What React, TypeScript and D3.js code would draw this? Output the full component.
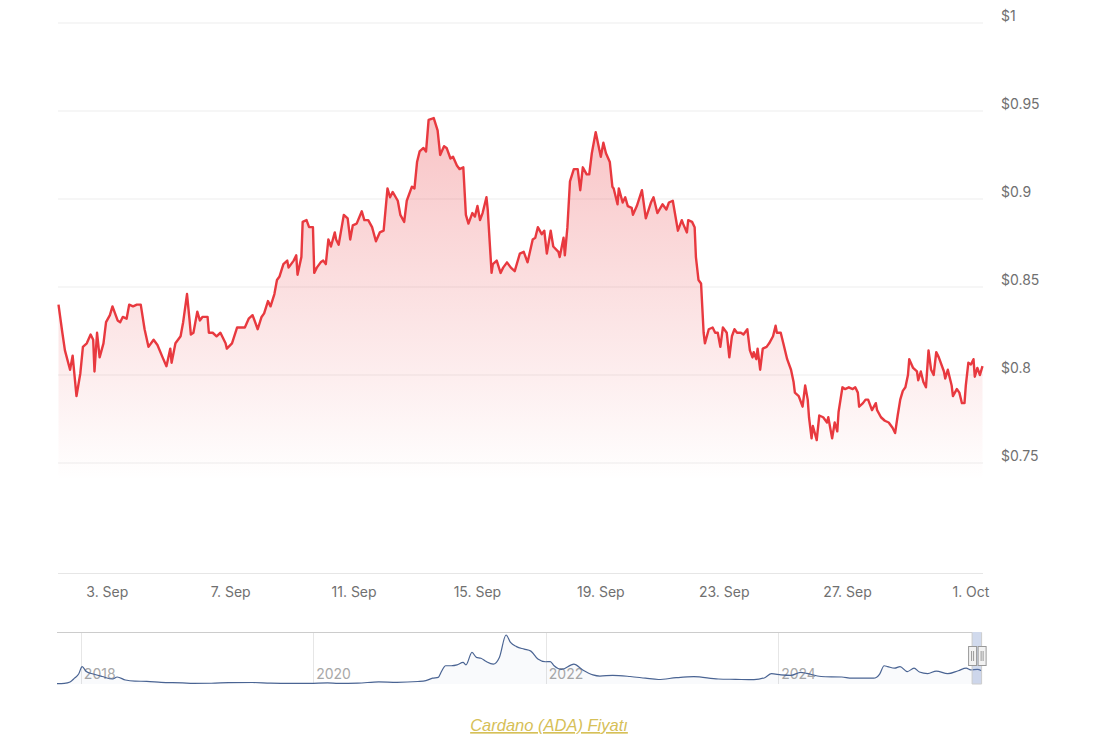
import React, { useEffect, useRef } from 'react';
import * as d3 from 'd3';

const WIDTH = 1113;
const HEIGHT = 738;

// ADA/USD, [hours since 1 Sep 2025 00:00 UTC, price]
const adaHourly: [number, number][] = [
  [10, 0.840], [13, 0.824], [15, 0.814], [19, 0.803], [21, 0.811], [24, 0.788], [27, 0.801], [29, 0.816],
  [32, 0.818], [35, 0.823], [37, 0.820], [38, 0.802], [40, 0.824], [42, 0.810], [45, 0.818], [47, 0.830],
  [50, 0.834], [52, 0.839], [56, 0.831], [58, 0.830], [60, 0.833], [63, 0.832], [65, 0.840], [68, 0.839],
  [71, 0.840], [74, 0.840], [77, 0.826], [80, 0.816], [84, 0.820], [87, 0.817], [91, 0.810], [94, 0.805],
  [97, 0.815], [98, 0.807], [101, 0.818], [105, 0.822], [107, 0.830], [110, 0.846], [112, 0.831], [113, 0.823],
  [115, 0.824], [118, 0.836], [120, 0.831], [122, 0.833], [126, 0.833], [127, 0.824], [130, 0.824], [133, 0.822],
  [136, 0.824], [140, 0.818], [141, 0.815], [145, 0.818], [149, 0.827], [152, 0.827], [155, 0.827], [158, 0.832],
  [161, 0.834], [165, 0.826], [168, 0.833], [170, 0.835], [173, 0.842], [175, 0.839], [178, 0.846], [180, 0.854],
  [182, 0.856], [185, 0.863], [188, 0.865], [189, 0.861], [193, 0.865], [195, 0.868], [196, 0.857], [199, 0.867],
  [200, 0.887], [203, 0.888], [205, 0.884], [208, 0.884], [209, 0.858], [211, 0.861], [214, 0.864], [216, 0.865],
  [218, 0.863], [220, 0.877], [222, 0.873], [225, 0.881], [226, 0.877], [228, 0.874], [232, 0.891], [235, 0.889],
  [237, 0.877], [239, 0.885], [242, 0.886], [246, 0.893], [248, 0.888], [251, 0.888], [254, 0.884], [257, 0.876],
  [260, 0.881], [263, 0.882], [266, 0.906], [268, 0.901], [270, 0.904], [274, 0.899], [276, 0.891], [279, 0.887],
  [281, 0.899], [285, 0.907], [287, 0.906], [289, 0.921], [291, 0.927], [294, 0.929], [296, 0.927], [298, 0.945],
  [302, 0.946], [305, 0.939], [307, 0.925], [310, 0.930], [312, 0.929], [315, 0.923], [317, 0.924], [320, 0.919],
  [322, 0.917], [325, 0.918], [327, 0.891], [329, 0.886], [332, 0.892], [334, 0.890], [336, 0.896], [338, 0.888],
  [340, 0.892], [343, 0.901], [344, 0.894], [347, 0.858], [348, 0.863], [351, 0.865], [354, 0.858], [356, 0.861],
  [359, 0.864], [362, 0.861], [365, 0.859], [369, 0.869], [372, 0.870], [375, 0.864], [379, 0.877], [381, 0.878],
  [383, 0.884], [386, 0.880], [388, 0.882], [390, 0.869], [393, 0.882], [395, 0.873], [399, 0.870], [400, 0.867],
  [403, 0.878], [404, 0.868], [406, 0.884], [408, 0.910], [411, 0.917], [414, 0.917], [416, 0.905], [418, 0.918],
  [421, 0.914], [423, 0.914], [425, 0.926], [428, 0.938], [430, 0.931], [432, 0.924], [434, 0.932], [436, 0.926],
  [439, 0.921], [441, 0.907], [442, 0.906], [445, 0.897], [446, 0.906], [449, 0.898], [451, 0.901], [453, 0.896],
  [456, 0.895], [457, 0.891], [460, 0.896], [464, 0.905], [467, 0.889], [471, 0.898], [473, 0.901], [476, 0.892],
  [480, 0.897], [483, 0.894], [485, 0.898], [488, 0.899], [492, 0.882], [495, 0.888], [496, 0.886], [499, 0.881],
  [500, 0.888], [503, 0.887], [505, 0.884], [506, 0.867], [508, 0.854], [510, 0.852], [512, 0.824], [513, 0.818],
  [516, 0.826], [519, 0.827], [521, 0.824], [523, 0.824], [525, 0.816], [527, 0.827], [530, 0.824], [532, 0.810],
  [534, 0.822], [536, 0.826], [538, 0.824], [541, 0.824], [543, 0.823], [546, 0.826], [548, 0.814], [550, 0.810],
  [551, 0.813], [553, 0.809], [554, 0.815], [556, 0.803], [558, 0.815], [561, 0.816], [563, 0.818], [566, 0.822],
  [568, 0.828], [569, 0.824], [572, 0.824], [574, 0.818], [577, 0.809], [580, 0.803], [582, 0.796], [583, 0.790],
  [586, 0.788], [589, 0.782], [591, 0.794], [593, 0.786], [594, 0.776], [596, 0.764], [597, 0.771], [600, 0.763],
  [602, 0.777], [605, 0.776], [608, 0.773], [609, 0.776], [612, 0.764], [614, 0.773], [616, 0.768], [617, 0.779],
  [620, 0.793], [622, 0.792], [625, 0.793], [628, 0.792], [630, 0.793], [632, 0.790], [633, 0.782], [636, 0.784],
  [638, 0.786], [640, 0.786], [643, 0.780], [646, 0.784], [647, 0.780], [650, 0.776], [653, 0.774], [656, 0.773],
  [659, 0.770], [661, 0.767], [663, 0.777], [665, 0.786], [667, 0.791], [669, 0.793], [671, 0.800], [672, 0.809],
  [675, 0.804], [678, 0.802], [679, 0.797], [681, 0.802], [683, 0.796], [685, 0.793], [687, 0.814], [689, 0.803],
  [691, 0.800], [693, 0.813], [695, 0.810], [699, 0.802], [700, 0.798], [702, 0.803], [705, 0.794], [706, 0.788],
  [709, 0.792], [711, 0.790], [713, 0.784], [715, 0.784], [716, 0.794], [718, 0.807], [720, 0.806], [722, 0.809],
  [723, 0.799], [725, 0.804], [727, 0.800], [729, 0.805],
];

// full history for the navigator
const adaHistory: [string, number][] = [
  ['2017-10-18', 0.025], ['2017-11-10', 0.04], ['2017-11-28', 0.12], ['2017-12-12', 0.35], ['2017-12-25', 0.6],
  ['2018-01-05', 1.05], ['2018-01-18', 0.75], ['2018-02-09', 0.6], ['2018-03-09', 0.45], ['2018-04-11', 0.3],
  ['2018-04-25', 0.42], ['2018-05-21', 0.24], ['2018-06-20', 0.17], ['2018-07-27', 0.16], ['2018-09-10', 0.1],
  ['2018-11-16', 0.07], ['2018-12-20', 0.04], ['2019-02-15', 0.045], ['2019-04-10', 0.08], ['2019-06-25', 0.09],
  ['2019-08-20', 0.05], ['2019-10-15', 0.04], ['2019-12-20', 0.035], ['2020-02-15', 0.07], ['2020-03-20', 0.035],
  ['2020-05-20', 0.05], ['2020-07-25', 0.13], ['2020-09-20', 0.1], ['2020-11-25', 0.15], ['2020-12-20', 0.2],
  ['2021-01-10', 0.35], ['2021-01-28', 0.4], ['2021-02-07', 0.75], ['2021-02-20', 1.1], ['2021-03-10', 1.1],
  ['2021-03-28', 1.15], ['2021-04-16', 1.3], ['2021-04-25', 1.15], ['2021-05-14', 1.9], ['2021-05-28', 1.6],
  ['2021-06-11', 1.55], ['2021-06-28', 1.35], ['2021-07-20', 1.2], ['2021-08-08', 1.6], ['2021-08-29', 2.95],
  ['2021-09-12', 2.5], ['2021-10-01', 2.25], ['2021-10-25', 2.1], ['2021-11-15', 1.98], ['2021-12-07', 1.5],
  ['2021-12-31', 1.34], ['2022-01-15', 1.35], ['2022-01-27', 1.1], ['2022-02-20', 0.88], ['2022-03-30', 1.2],
  ['2022-04-26', 0.86], ['2022-05-29', 0.55], ['2022-06-20', 0.48], ['2022-07-30', 0.52], ['2022-09-23', 0.45],
  ['2022-11-10', 0.35], ['2022-12-21', 0.27], ['2023-02-15', 0.38], ['2023-04-11', 0.44], ['2023-06-27', 0.3],
  ['2023-08-20', 0.28], ['2023-10-17', 0.26], ['2023-11-20', 0.38], ['2023-12-11', 0.62], ['2024-01-10', 0.55],
  ['2024-02-10', 0.52], ['2024-03-12', 0.7], ['2024-03-31', 0.64], ['2024-05-15', 0.45], ['2024-07-19', 0.42],
  ['2024-08-20', 0.35], ['2024-10-27', 0.35], ['2024-11-15', 0.6], ['2024-11-29', 1.1], ['2024-12-10', 1.05],
  ['2025-01-01', 0.95], ['2025-01-18', 1.05], ['2025-02-10', 0.75], ['2025-03-03', 0.95], ['2025-03-20', 0.72],
  ['2025-04-15', 0.63], ['2025-05-12', 0.78], ['2025-06-17', 0.62], ['2025-07-20', 0.8], ['2025-08-14', 0.95],
  ['2025-08-28', 0.85], ['2025-09-18', 0.88], ['2025-10-01', 0.8],
];

const priceTicks = [0.75, 0.8, 0.85, 0.9, 0.95, 1];
const dateTicks = ['2025-09-03', '2025-09-07', '2025-09-11', '2025-09-15', '2025-09-19', '2025-09-23', '2025-09-27', '2025-10-01'];
const yearTicks = ['2018-01-01', '2020-01-01', '2022-01-01', '2024-01-01'];
const linkLabel = 'Cardano (ADA) Fiyatı';

const FONT = "Inter, 'Noto Sans', sans-serif";
const RED = '#e8393f';

export default function App() {
  const ref = useRef<SVGSVGElement>(null);

  useEffect(() => {
    const svg = d3.select(ref.current);
    svg.selectAll('*').remove();

    const t0 = Date.UTC(2025, 8, 1);
    const data = adaHourly.map(([h, p]) => ({ date: new Date(t0 + h * 3600e3), price: p }));

    // main plot
    const left = 58.5, right = 982.5, top = 23, bottom = 573;
    const x = d3.scaleUtc()
      .domain(d3.extent(data, d => d.date) as [Date, Date])
      .range([left, right]);
    const y = d3.scaleLinear().domain([0.6875, 1]).range([bottom, top]);

    const grad = svg.append('defs').append('linearGradient')
      .attr('id', 'adaFill')
      .attr('gradientUnits', 'userSpaceOnUse')
      .attr('x1', 0).attr('x2', 0)
      .attr('y1', y(d3.max(data, d => d.price) as number))
      .attr('y2', y(0.74));
    grad.append('stop').attr('offset', 0).attr('stop-color', RED).attr('stop-opacity', 0.3);
    grad.append('stop').attr('offset', 1).attr('stop-color', RED).attr('stop-opacity', 0);

    // horizontal grid + labels on the right
    svg.append('g').selectAll('line')
      .data(priceTicks)
      .enter().append('line')
      .attr('x1', 58).attr('x2', 983)
      .attr('y1', d => y(d)).attr('y2', d => y(d))
      .attr('stroke', '#ededed')
      .attr('stroke-width', 1);

    svg.append('g').selectAll('text')
      .data(priceTicks)
      .enter().append('text')
      .attr('x', 1001)
      .attr('y', d => y(d) - 2)
      .attr('font-family', FONT)
      .attr('font-size', 14)
      .attr('fill', '#707070')
      .text(d => '$' + d3.format('~g')(d));

    // x axis line
    svg.append('line')
      .attr('x1', 58).attr('x2', 983)
      .attr('y1', bottom + 0.5).attr('y2', bottom + 0.5)
      .attr('stroke', '#e6e6e6');

    svg.append('g').selectAll('text')
      .data(dateTicks.map(s => new Date(s + 'T00:00:00Z')))
      .enter().append('text')
      .attr('x', d => x(d))
      .attr('y', 597)
      .attr('text-anchor', 'middle')
      .attr('font-family', FONT)
      .attr('font-size', 14)
      .attr('fill', '#707070')
      .text(d => d3.utcFormat('%-d. %b')(d));

    const area = d3.area<{ date: Date; price: number }>()
      .x(d => x(d.date))
      .y0(bottom)
      .y1(d => y(d.price));
    svg.append('path')
      .datum(data)
      .attr('d', area)
      .attr('fill', 'url(#adaFill)');

    const line = d3.line<{ date: Date; price: number }>()
      .x(d => x(d.date))
      .y(d => y(d.price));
    svg.append('path')
      .datum(data)
      .attr('d', line)
      .attr('fill', 'none')
      .attr('stroke', RED)
      .attr('stroke-width', 2.4)
      .attr('stroke-linejoin', 'round');

    // navigator
    const navTop = 632, navBottom = 684;
    const hist = adaHistory.map(([s, p]) => ({ date: new Date(s + 'T00:00:00Z'), price: p }));
    const nx = d3.scaleUtc()
      .domain(d3.extent(hist, d => d.date) as [Date, Date])
      .range([57, 981.5]);
    const ny = d3.scaleLinear().domain([0, 2.95]).range([navBottom, 635]);

    svg.append('g').selectAll('line')
      .data(yearTicks.map(s => new Date(s + 'T00:00:00Z')))
      .enter().append('line')
      .attr('x1', d => Math.round(nx(d)) + 0.5).attr('x2', d => Math.round(nx(d)) + 0.5)
      .attr('y1', navTop).attr('y2', navBottom)
      .attr('stroke', '#e6e6e6');

    svg.append('g').selectAll('text')
      .data(yearTicks.map(s => new Date(s + 'T00:00:00Z')))
      .enter().append('text')
      .attr('x', d => nx(d) + 3)
      .attr('y', 679)
      .attr('font-family', FONT)
      .attr('font-size', 14)
      .attr('fill', '#a8a8a8')
      .text(d => d3.utcFormat('%Y')(d));

    const navArea = d3.area<{ date: Date; price: number }>()
      .x(d => nx(d.date))
      .y0(navBottom)
      .y1(d => ny(d.price))
      .curve(d3.curveMonotoneX);
    svg.append('path')
      .datum(hist)
      .attr('d', navArea)
      .attr('fill', '#335cad')
      .attr('fill-opacity', 0.03);
    svg.append('path')
      .datum(hist)
      .attr('d', navArea.lineY1())
      .attr('fill', 'none')
      .attr('stroke', '#4a6493')
      .attr('stroke-width', 1.2);

    // selected window = range of the main chart
    const [selStart, selEnd] = x.domain();
    const m0 = nx(selStart), m1 = nx(selEnd);
    svg.append('rect')
      .attr('x', m0).attr('y', navTop)
      .attr('width', m1 - m0).attr('height', navBottom - navTop)
      .attr('fill', 'rgba(102,133,194,0.3)');

    svg.append('path')
      .attr('d', `M57,${navTop + 0.5}H${m0}V${navBottom}H${m1}V${navTop + 0.5}H981.5`)
      .attr('fill', 'none')
      .attr('stroke', '#cccccc');

    const handles = svg.append('g').selectAll('g')
      .data([m0, m1])
      .enter().append('g')
      .attr('transform', d => `translate(${d - 4},646)`);
    handles.append('rect')
      .attr('x', 0.5).attr('y', 0.5).attr('width', 8).attr('height', 19)
      .attr('fill', '#f2f2f2').attr('stroke', '#999999');
    handles.append('path')
      .attr('d', 'M3.5,5V15M5.5,5V15')
      .attr('stroke', '#999999');

    // link under the chart
    svg.append('text')
      .attr('x', 549)
      .attr('y', 731)
      .attr('text-anchor', 'middle')
      .attr('font-family', "'Liberation Sans', Arial, sans-serif")
      .attr('font-style', 'italic')
      .attr('font-size', 16.5)
      .attr('fill', '#d6c058')
      .style('text-decoration', 'underline')
      .text(linkLabel);
  }, []);

  return (
    <div style={{ position: 'absolute', left: 0, top: 0 }}>
      <svg ref={ref} width={WIDTH} height={HEIGHT} style={{ display: 'block', background: '#fff' }} />
    </div>
  );
}
